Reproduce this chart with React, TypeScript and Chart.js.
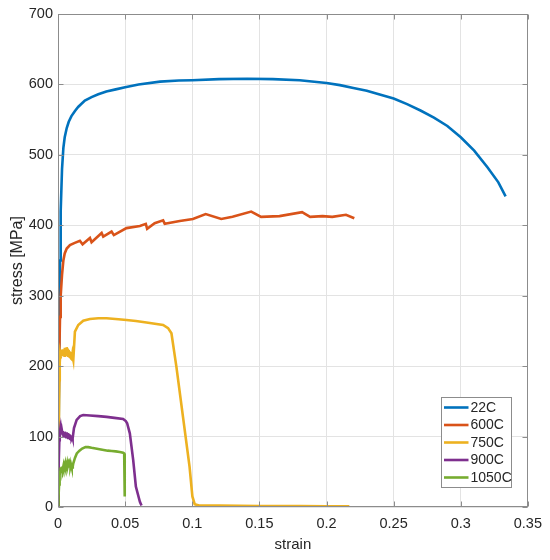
import React, { useEffect, useRef } from "react";
import { Chart, registerables } from "chart.js";

Chart.register(...registerables);

const seriesLabels = ["22C", "600C", "750C", "900C", "1050C"];
const seriesColors = ["#0072BD", "#D95319", "#EDB120", "#7E2F8E", "#77AC30"];

const strain22 = [0, 0.0005, 0.001, 0.0015, 0.002, 0.003, 0.004, 0.005, 0.0065, 0.008, 0.01, 0.0125, 0.015, 0.02, 0.025, 0.03, 0.036, 0.043, 0.05, 0.06, 0.076, 0.09, 0.1, 0.12, 0.141, 0.16, 0.18, 0.2, 0.21, 0.22, 0.23, 0.239, 0.25, 0.26, 0.27, 0.28, 0.29, 0.3, 0.31, 0.32, 0.328, 0.3334];
const stress22 = [0, 110, 250, 350, 420, 480, 510, 525, 538, 547, 555, 562, 568, 577, 582, 586, 590, 593, 596, 600, 604, 605.5, 606, 607.5, 608, 607.5, 606, 602, 599, 595, 591, 586, 580, 572, 563, 553, 541, 525, 506, 482, 461, 441];

const strain600 = [0, 0.0005, 0.001, 0.0015, 0.002, 0.003, 0.004, 0.005, 0.0065, 0.0089, 0.0125, 0.0163, 0.0183, 0.0238, 0.025, 0.0325, 0.0337, 0.0399, 0.0416, 0.051, 0.061, 0.0654, 0.0664, 0.072, 0.0783, 0.0795, 0.0907, 0.1005, 0.11, 0.1216, 0.13, 0.1439, 0.1513, 0.165, 0.1818, 0.1878, 0.197, 0.2043, 0.2145, 0.2207];
const stress600 = [0, 150, 220, 270, 300, 330, 350, 360, 367, 372, 375, 378, 373, 382, 376, 389, 384, 391, 386, 396, 399, 402, 395, 403, 407, 402, 406, 409, 416, 409, 412, 419.5, 412, 413, 418.6, 412, 413, 412, 415, 410];

const strain750 = [0, 0.0005, 0.001, 0.0013, 0.0016, 0.002, 0.0023, 0.0027, 0.003, 0.0034, 0.0037, 0.0041, 0.0044, 0.0048, 0.0051, 0.0055, 0.0058, 0.0062, 0.0065, 0.0069, 0.0072, 0.0076, 0.0079, 0.0083, 0.0086, 0.009, 0.0093, 0.0097, 0.01, 0.0104, 0.0107, 0.0111, 0.0114, 0.0126, 0.0151, 0.0188, 0.0238, 0.03, 0.0362, 0.045, 0.051, 0.058, 0.0659, 0.0783, 0.082, 0.0845, 0.0882, 0.0931, 0.098, 0.1001, 0.1018, 0.105, 0.12, 0.15, 0.18, 0.2, 0.217];
const stress750 = [0, 90, 180, 205, 216, 211, 220, 214, 223, 215, 224, 217, 222, 215, 226, 218, 224, 216, 227, 219, 225, 215, 223, 214, 221, 213, 220, 211, 219, 210, 217, 212, 209, 249, 258.5, 264.6, 267, 268, 268, 266.5, 265.6, 264, 262, 258.5, 254, 246.7, 199, 128, 57, 15, 4, 2, 2, 1.5, 1.5, 1, 1];

const strain900 = [0, 0.0005, 0.001, 0.0013, 0.0016, 0.002, 0.0023, 0.0027, 0.003, 0.0034, 0.0037, 0.0041, 0.0044, 0.0048, 0.0051, 0.0055, 0.0058, 0.0062, 0.0065, 0.0069, 0.0072, 0.0076, 0.0079, 0.0083, 0.0086, 0.009, 0.0093, 0.0097, 0.01, 0.0104, 0.0107, 0.0109, 0.0119, 0.0139, 0.0165, 0.0188, 0.0238, 0.03, 0.0362, 0.042, 0.0485, 0.0505, 0.0515, 0.0535, 0.056, 0.058, 0.061, 0.0622];
const stress900 = [0, 60, 95, 104, 109, 103, 110, 104, 108, 102, 107, 101, 106, 100, 107, 101, 105, 99, 106, 100, 105, 98, 104, 99, 103, 97, 102, 96, 101, 97, 99, 97.6, 112, 123.6, 129, 130.7, 130, 129, 128, 126.5, 125, 122, 119, 104.6, 67, 29, 7.5, 2];

const strain1050 = [0, 0.0004, 0.0008, 0.0012, 0.0016, 0.002, 0.0023, 0.0027, 0.003, 0.0034, 0.0037, 0.0041, 0.0044, 0.0048, 0.0051, 0.0055, 0.0058, 0.0062, 0.0065, 0.0069, 0.0072, 0.0076, 0.0079, 0.0083, 0.0086, 0.009, 0.0093, 0.0097, 0.01, 0.0104, 0.0107, 0.011, 0.0114, 0.0127, 0.014, 0.016, 0.018, 0.0205, 0.0225, 0.025, 0.028, 0.031, 0.034, 0.037, 0.04, 0.043, 0.046, 0.0485, 0.0493, 0.0497, 0.0497];
const stress1050 = [0, 15, 32, 45, 50, 56, 52, 57, 53, 58, 54, 59, 55, 58, 55, 60, 56, 59, 56, 61, 57, 60, 56, 60, 57, 61, 57, 60, 56, 59, 56, 58, 62, 70, 76, 80, 83, 85, 85, 84, 83, 82, 81, 80, 79.5, 79, 78, 77, 76, 72, 15];

const seriesStrain = [strain22, strain600, strain750, strain900, strain1050];
const seriesStress = [stress22, stress600, stress750, stress900, stress1050];

const xTickValues = [0, 0.05, 0.1, 0.15, 0.2, 0.25, 0.3, 0.35];
const xTickLabels = ["0", "0.05", "0.1", "0.15", "0.2", "0.25", "0.3", "0.35"];
const yTickValues = [0, 100, 200, 300, 400, 500, 600, 700];
const yTickLabels = ["0", "100", "200", "300", "400", "500", "600", "700"];

const AXIS_COLOR = "#8c8c8c";
const TEXT_COLOR = "#262626";
const GRID_COLOR = "#e3e3e3";
const FONT = "'Liberation Sans', Arial, Helvetica, sans-serif";

const boxPlugin = {
  id: "matlabBox",
  afterDraw(chart: any) {
    const { ctx, chartArea: a, scales } = chart;
    ctx.save();
    ctx.strokeStyle = AXIS_COLOR;
    ctx.lineWidth = 1;
    const L = Math.round(a.left) + 0.5;
    const R = Math.round(a.right) - 0.5;
    const T = Math.round(a.top) + 0.5;
    const B = Math.round(a.bottom) - 0.5;
    ctx.strokeRect(L, T, R - L, B - T);
    const tl = 5;
    ctx.beginPath();
    xTickValues.forEach((v) => {
      const px = Math.round(scales.x.getPixelForValue(v)) + 0.5;
      ctx.moveTo(px, B);
      ctx.lineTo(px, B - tl);
      ctx.moveTo(px, T);
      ctx.lineTo(px, T + tl);
    });
    yTickValues.forEach((v) => {
      const py = Math.round(scales.y.getPixelForValue(v)) + 0.5;
      ctx.moveTo(L, py);
      ctx.lineTo(L + tl, py);
      ctx.moveTo(R, py);
      ctx.lineTo(R - tl, py);
    });
    ctx.stroke();

    // legend
    const datasets = chart.data.datasets;
    const bw = 70;
    const bh = 90;
    const bx = Math.round(a.right - 17 - bw) + 0.5;
    const by = Math.round(a.bottom - 20 - bh) + 0.5;
    ctx.fillStyle = "#ffffff";
    ctx.fillRect(bx, by, bw, bh);
    ctx.strokeStyle = AXIS_COLOR;
    ctx.strokeRect(bx, by, bw, bh);
    ctx.font = `14px ${FONT}`;
    ctx.textBaseline = "middle";
    ctx.textAlign = "left";
    datasets.forEach((ds: any, i: number) => {
      const yy = by + 10 + i * 17.5;
      ctx.strokeStyle = ds.borderColor;
      ctx.lineWidth = 2.6;
      ctx.beginPath();
      ctx.moveTo(bx + 2.5, yy);
      ctx.lineTo(bx + 27, yy);
      ctx.stroke();
      ctx.fillStyle = TEXT_COLOR;
      ctx.fillText(ds.label, bx + 29, yy + 0.5);
    });
    ctx.restore();
  },
};

export default function App() {
  const ref = useRef<HTMLCanvasElement | null>(null);
  useEffect(() => {
    document.body.style.margin = "0";
    const canvas = ref.current;
    if (!canvas) return;
    const datasets = seriesLabels.map((label, i) => ({
      label,
      data: seriesStrain[i].map((x, j) => ({ x, y: seriesStress[i][j] })),
      borderColor: seriesColors[i],
      backgroundColor: seriesColors[i],
      borderWidth: 2.6,
      pointRadius: 0,
      tension: 0,
      fill: false,
      order: seriesLabels.length - i,
    }));
    const chart = new Chart(canvas, {
      type: "line",
      data: { datasets },
      plugins: [boxPlugin],
      options: {
        animation: false,
        responsive: false,
        devicePixelRatio: 1,
        layout: { padding: { left: 0, top: 14, right: 21, bottom: 0 } },
        plugins: { legend: { display: false }, tooltip: { enabled: false } },
        scales: {
          x: {
            type: "linear",
            min: 0,
            max: 0.35,
            afterBuildTicks: (s: any) => {
              s.ticks = xTickValues.map((v) => ({ value: v }));
            },
            afterFit: (s: any) => {
              s.height = 53;
            },
            ticks: {
              padding: 8,
              color: TEXT_COLOR,
              font: { family: FONT, size: 14.5 },
              maxRotation: 0,
              callback: (v: any, idx: number) => xTickLabels[idx],
            },
            grid: { color: GRID_COLOR, drawTicks: false },
            border: { display: false },
            title: {
              display: true,
              text: "strain",
              color: TEXT_COLOR,
              font: { family: FONT, size: 15 },
              padding: { top: 0, bottom: 6 },
            },
          },
          y: {
            type: "linear",
            min: 0,
            max: 700,
            afterBuildTicks: (s: any) => {
              s.ticks = yTickValues.map((v) => ({ value: v }));
            },
            afterFit: (s: any) => {
              s.width = 58;
            },
            ticks: {
              padding: 5,
              color: TEXT_COLOR,
              font: { family: FONT, size: 14.5 },
              callback: (v: any, idx: number) => yTickLabels[idx],
            },
            grid: { color: GRID_COLOR, drawTicks: false },
            border: { display: false },
            title: {
              display: true,
              text: "stress [MPa]",
              color: TEXT_COLOR,
              font: { family: FONT, size: 16 },
              padding: { top: 8, bottom: 0 },
            },
          },
        },
      },
    });
    return () => chart.destroy();
  }, []);
  return <canvas ref={ref} width={550} height={560} style={{ display: "block" }} />;
}
